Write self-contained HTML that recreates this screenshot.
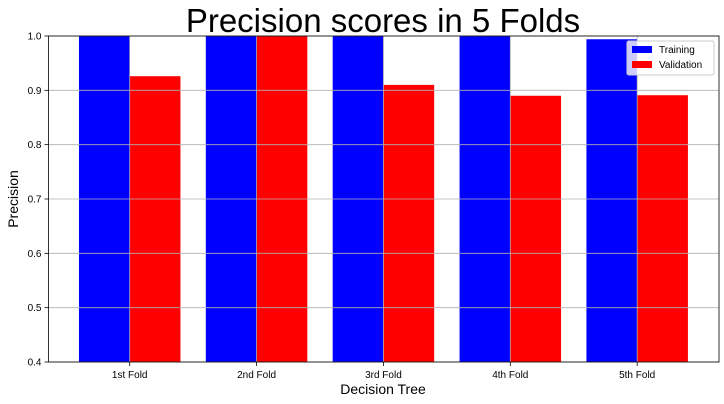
<!DOCTYPE html>
<html><head><meta charset="utf-8"><style>body{margin:0;background:#fff}svg{display:block;font-family:"Liberation Sans","DejaVu Sans",sans-serif}</style></head>
<body>
<svg id="chart" width="724" height="404" viewBox="0 0 724 404" xmlns="http://www.w3.org/2000/svg">
<rect width="724" height="404" fill="#fff"/>
<text x="383" y="32" font-size="33" text-anchor="middle" fill="#000">Precision scores in 5 Folds</text>
<g id="bars"></g>
<g id="grid"></g>
<g id="axes"></g>
<text x="18" y="199" font-size="14" text-anchor="middle" transform="rotate(-90 18 199)">Precision</text>
<text x="383" y="394" font-size="14" text-anchor="middle">Decision Tree</text>
<g>
<rect x="627" y="41" width="87" height="34" fill="#fff" fill-opacity="0.8" stroke="#ccc" rx="2"/>
<rect x="632" y="46" width="20" height="7" fill="#0000ff"/>
<text x="659" y="53" font-size="10">Training</text>
<rect x="632" y="61" width="20" height="7" fill="#ff0000"/>
<text x="659" y="68" font-size="10">Validation</text>
</g>
</svg>
<script>
const categories = ["1st Fold","2nd Fold","3rd Fold","4th Fold","5th Fold"];
const training = [1.0, 1.0, 1.0, 1.0, 0.994];
const validation = [0.926, 1.0, 0.910, 0.890, 0.891];
const yTicks = [0.4,0.5,0.6,0.7,0.8,0.9,1.0];
const NS="http://www.w3.org/2000/svg";
const L=48.5,R=719,T=36,B=362,ymin=0.4,ymax=1.0,xmin=-0.64,xmax=4.645;
const xs=v=>L+(v-xmin)/(xmax-xmin)*(R-L);
const ys=v=>B-(v-ymin)/(ymax-ymin)*(B-T);
function mk(tag,at,parent){const e=document.createElementNS(NS,tag);for(const k in at)e.setAttribute(k,at[k]);document.getElementById(parent).appendChild(e);return e;}
const bw=0.4;
categories.forEach((c,i)=>{
  const tv=Math.min(training[i],ymax), vv=Math.min(validation[i],ymax);
  let b=mk('rect',{x:xs(i-bw),y:ys(tv),width:xs(i)-xs(i-bw),height:B-ys(tv),fill:'#0000ff'},'bars');
  
  
  b=mk('rect',{x:xs(i),y:ys(vv),width:xs(i+bw)-xs(i),height:B-ys(vv),fill:'#ff0000'},'bars');
  
  
  const g=mk('line',{x1:xs(i),x2:xs(i),y1:T,y2:B,stroke:'#b0b0b0','stroke-width':0.8},'grid');
  
  
  const t=mk('line',{x1:xs(i),x2:xs(i),y1:B,y2:B+4,stroke:'#000','stroke-width':0.8},'axes');
  
  
  const lb=mk('text',{x:xs(i),y:B+16,'font-size':10,'text-anchor':'middle'},'axes');
  lb.textContent=c;
  
  
});
yTicks.forEach(v=>{
  const g=mk('line',{x1:L,x2:R,y1:ys(v),y2:ys(v),stroke:'#b0b0b0','stroke-width':0.8},'grid');
  
  
  const t=mk('line',{x1:L-4,x2:L,y1:ys(v),y2:ys(v),stroke:'#000','stroke-width':0.8},'axes');
  
  
  const lb=mk('text',{x:L-7,y:ys(v)+3.5,'font-size':10,'text-anchor':'end'},'axes');
  lb.textContent=v.toFixed(1);
  
  
});
const f=mk('rect',{x:L,y:T,width:R-L,height:B-T,fill:'none',stroke:'#000','stroke-width':0.8},'axes');


</script>
</body></html>
